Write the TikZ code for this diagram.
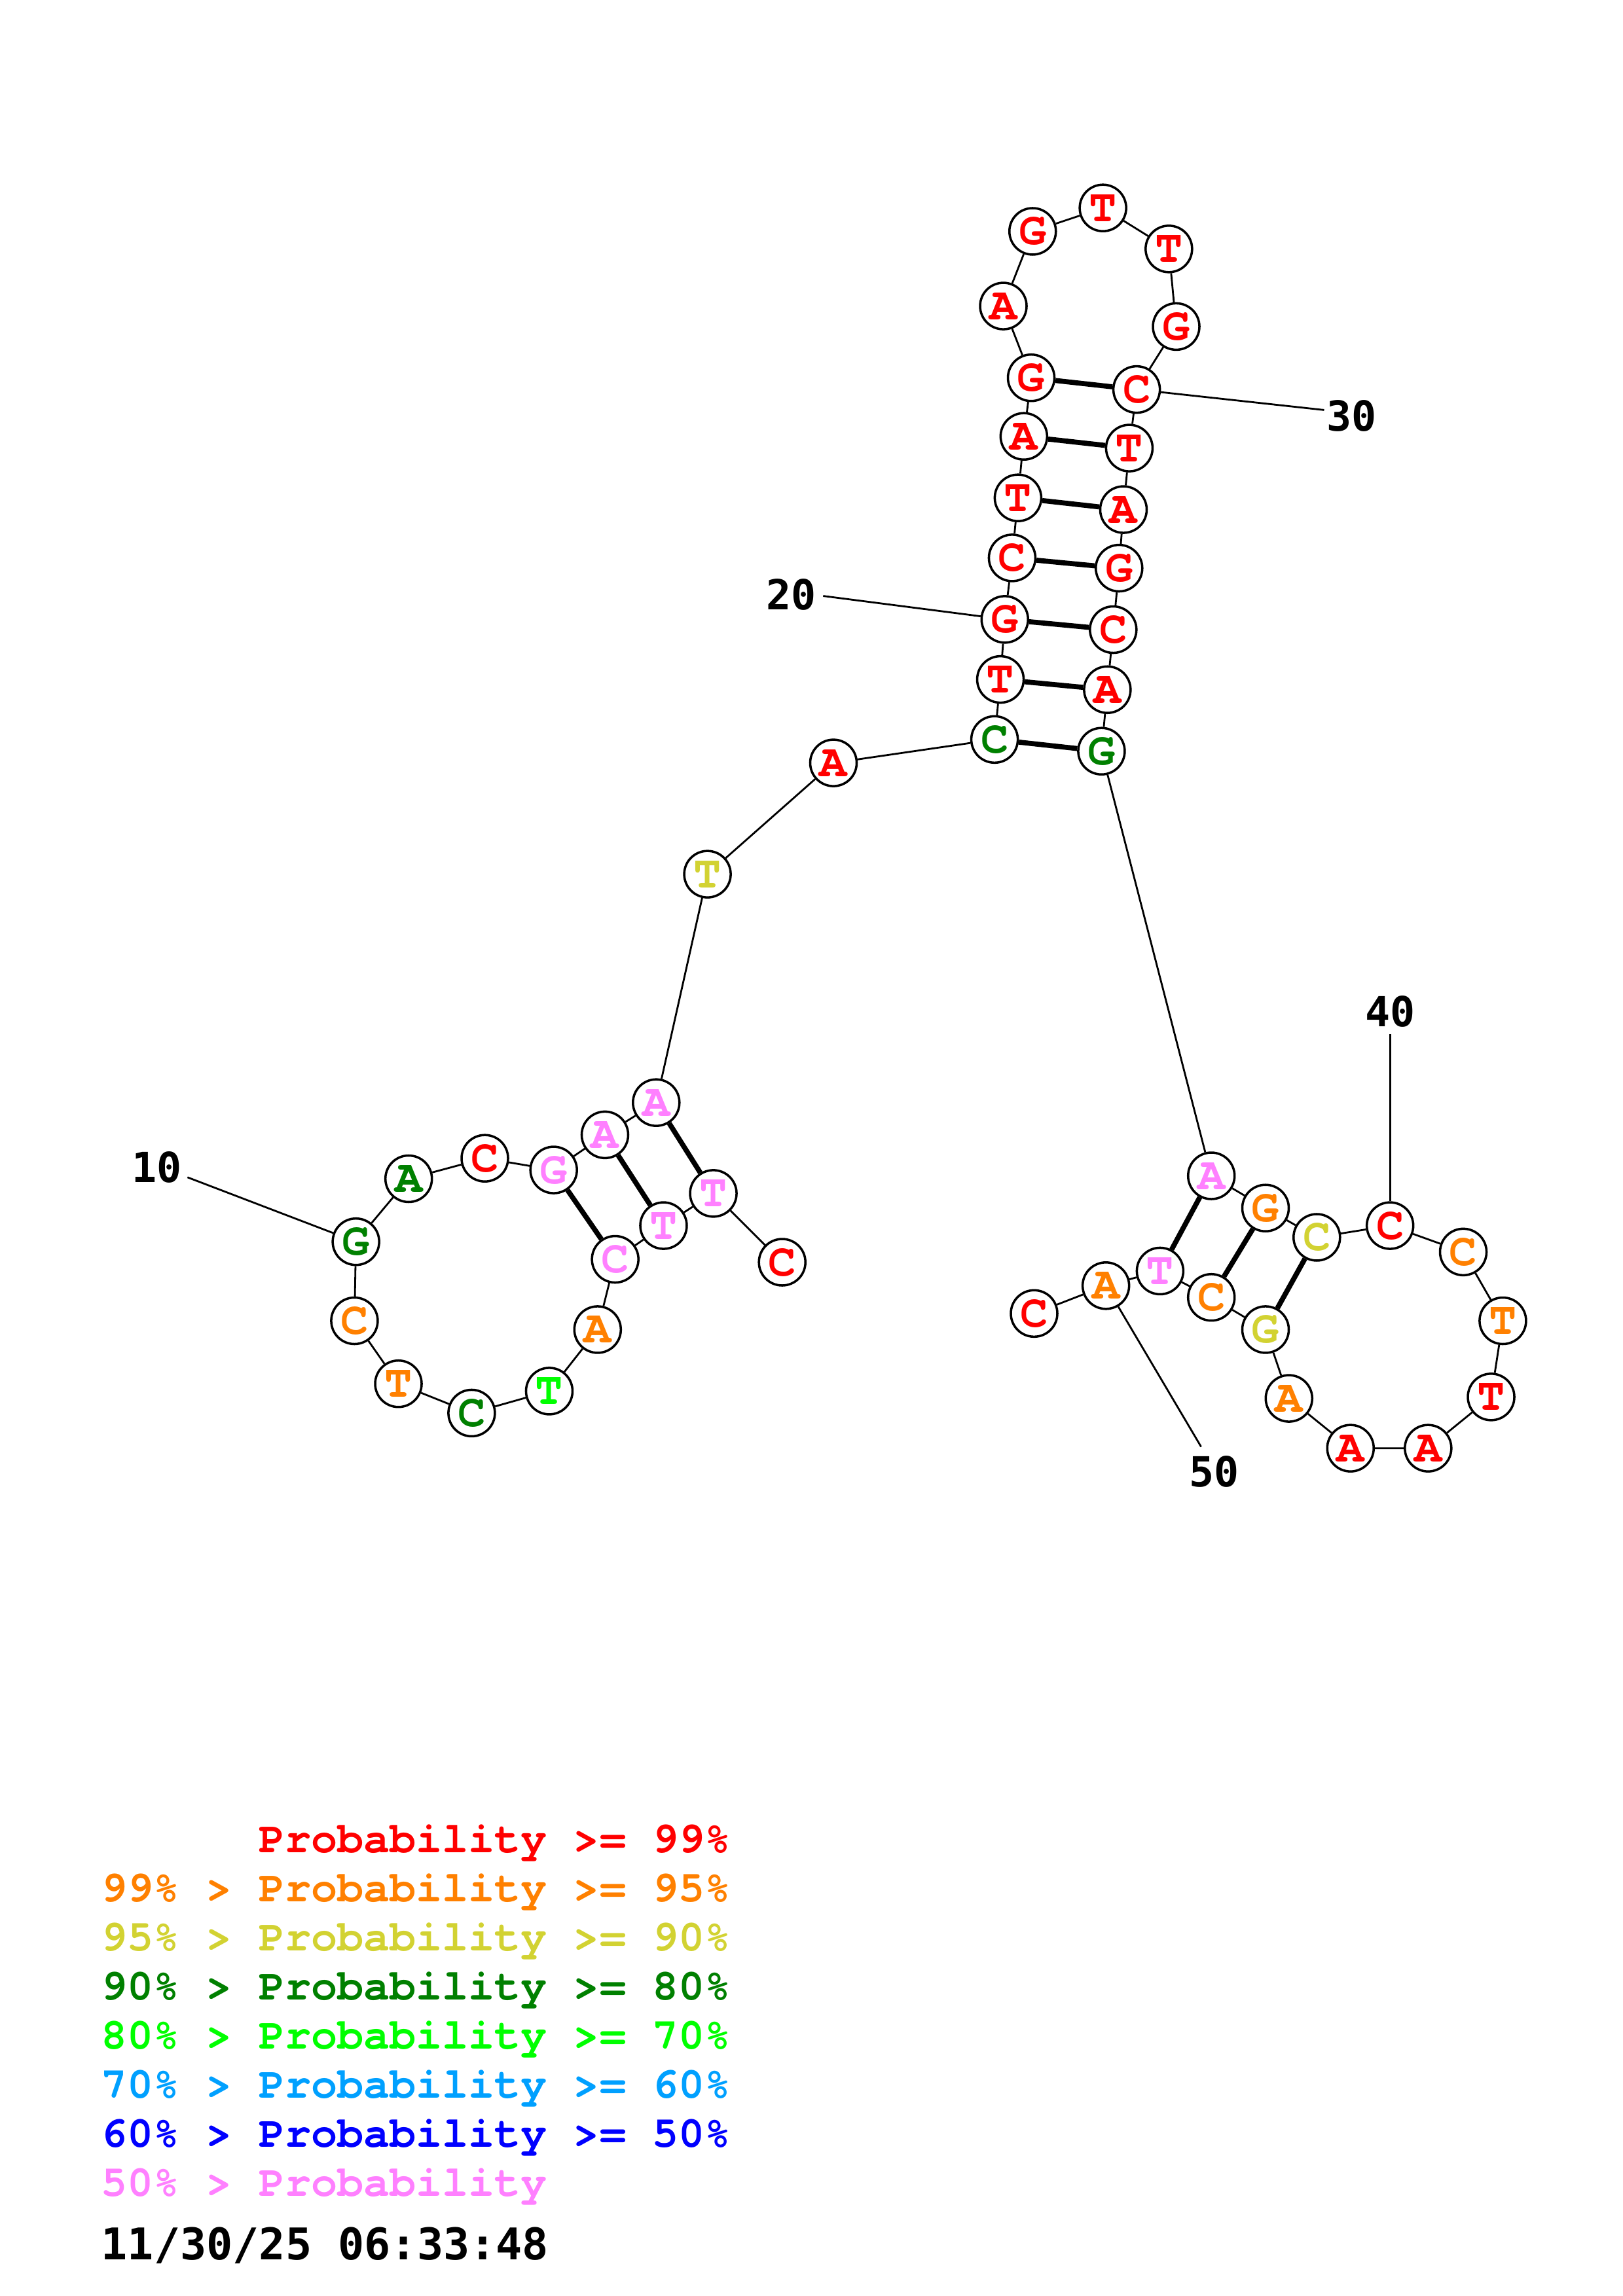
\documentclass[tikz,border=0pt]{standalone}
\usepackage{fontspec}
\usepackage{tikz}
\newfontfamily\basefont{TeX Gyre Cursor}
\newfontfamily\numfont{DejaVu Sans Mono}

\definecolor{prRed}{RGB}{255,0,0}
\definecolor{prOrange}{RGB}{255,128,0}
\definecolor{prYellow}{RGB}{210,210,50}
\definecolor{prDkGreen}{RGB}{0,128,0}
\definecolor{prGreen}{RGB}{0,255,0}
\definecolor{prSky}{RGB}{0,160,255}
\definecolor{prBlue}{RGB}{0,0,255}
\definecolor{prPink}{RGB}{255,128,255}

\begin{document}
\begin{tikzpicture}[
    x=0.022374cm, y=-0.022374cm,
    nt/.style={circle, draw=black, line width=1pt, fill=white, inner sep=0pt, minimum size=0.71cm, font=\basefont\bfseries\fontsize{20}{20}\selectfont},
    p99/.style={nt, text=prRed},
    p95/.style={nt, text=prOrange},
    p90/.style={nt, text=prYellow},
    p80/.style={nt, text=prDkGreen},
    p70/.style={nt, text=prGreen},
    p50/.style={nt, text=prPink},
    backbone/.style={line width=0.8pt},
    pair/.style={line width=2.2pt},
    tick/.style={line width=0.8pt},
    numlabel/.style={inner sep=0pt, font=\numfont\bfseries\fontsize{18}{18}\selectfont},
    legend/.style={anchor=base west, inner sep=0pt, font=\basefont\bfseries\fontsize{19}{19}\selectfont}
]
    \useasboundingbox (0,0) rectangle (1108,1568);

    % 5' end and first stem
    \node[p99] (n1) at (534,862) {C};
    \node[p50] (n2) at (487,815) {T};
    \node[p50] (n3) at (453,837) {T};
    \node[p50] (n4) at (420,860) {C};
    % left loop
    \node[p95] (n5) at (408,908) {A};
    \node[p70] (n6) at (375,950) {T};
    \node[p80] (n7) at (322,965) {C};
    \node[p95] (n8) at (272,945) {T};
    \node[p95] (n9) at (242,902) {C};
    \node[p80] (n10) at (243,848) {G};
    \node[p80] (n11) at (279,805) {A};
    \node[p99] (n12) at (331,791) {C};
    \node[p50] (n13) at (378,799) {G};
    \node[p50] (n14) at (413,775) {A};
    \node[p50] (n15) at (448,753) {A};
    % linker
    \node[p90] (n16) at (483,597) {T};
    \node[p99] (n17) at (569,521) {A};
    % long hairpin
    \node[p80] (n18) at (679,505) {C};
    \node[p99] (n19) at (683,464) {T};
    \node[p99] (n20) at (686,423) {G};
    \node[p99] (n21) at (691,381) {C};
    \node[p99] (n22) at (695,340) {T};
    \node[p99] (n23) at (699,298) {A};
    \node[p99] (n24) at (704,258) {G};
    \node[p99] (n25) at (685,209) {A};
    \node[p99] (n26) at (705,158) {G};
    \node[p99] (n27) at (753,142) {T};
    \node[p99] (n28) at (798,170) {T};
    \node[p99] (n29) at (803,223) {G};
    \node[p99] (n30) at (776,266) {C};
    \node[p99] (n31) at (771,306) {T};
    \node[p99] (n32) at (767,348) {A};
    \node[p99] (n33) at (764,388) {G};
    \node[p99] (n34) at (760,430) {C};
    \node[p99] (n35) at (756,471) {A};
    \node[p80] (n36) at (752,513) {G};
    % right stem and loop
    \node[p50] (n37) at (827,803) {A};
    \node[p95] (n38) at (864,825) {G};
    \node[p90] (n39) at (899,845) {C};
    \node[p99] (n40) at (949,837) {C};
    \node[p95] (n41) at (999,855) {C};
    \node[p95] (n42) at (1026,902) {T};
    \node[p99] (n43) at (1018,954) {T};
    \node[p99] (n44) at (975,989) {A};
    \node[p99] (n45) at (922,989) {A};
    \node[p95] (n46) at (880,955) {A};
    \node[p90] (n47) at (864,908) {G};
    \node[p95] (n48) at (827,886) {C};
    \node[p50] (n49) at (792,868) {T};
    \node[p95] (n50) at (755,878) {A};
    \node[p99] (n51) at (706,897) {C};

    % backbone
    \draw[backbone] (n1) -- (n2) -- (n3) -- (n4) -- (n5) -- (n6) -- (n7) -- (n8) -- (n9) -- (n10)
        -- (n11) -- (n12) -- (n13) -- (n14) -- (n15) -- (n16) -- (n17) -- (n18) -- (n19) -- (n20)
        -- (n21) -- (n22) -- (n23) -- (n24) -- (n25) -- (n26) -- (n27) -- (n28) -- (n29) -- (n30)
        -- (n31) -- (n32) -- (n33) -- (n34) -- (n35) -- (n36) -- (n37) -- (n38) -- (n39) -- (n40)
        -- (n41) -- (n42) -- (n43) -- (n44) -- (n45) -- (n46) -- (n47) -- (n48) -- (n49) -- (n50)
        -- (n51);

    % base pairs
    \draw[pair] (n2) -- (n15);
    \draw[pair] (n3) -- (n14);
    \draw[pair] (n4) -- (n13);
    \draw[pair] (n18) -- (n36);
    \draw[pair] (n19) -- (n35);
    \draw[pair] (n20) -- (n34);
    \draw[pair] (n21) -- (n33);
    \draw[pair] (n22) -- (n32);
    \draw[pair] (n23) -- (n31);
    \draw[pair] (n24) -- (n30);
    \draw[pair] (n37) -- (n49);
    \draw[pair] (n38) -- (n48);
    \draw[pair] (n39) -- (n47);

    % position numbers
    \node[numlabel] (lab10) at (107,797) {10};
    \node[numlabel] (lab20) at (540,406) {20};
    \node[numlabel] (lab30) at (923,284) {30};
    \node[numlabel] (lab40) at (949,691) {40};
    \node[numlabel] (lab50) at (829,1005) {50};
    \coordinate (t10) at (128,804);
    \coordinate (t20) at (562,407);
    \coordinate (t30) at (904,280);
    \coordinate (t40) at (949,706);
    \coordinate (t50) at (820,988);
    \draw[tick] (t10) -- (n10);
    \draw[tick] (t20) -- (n20);
    \draw[tick] (n30) -- (t30);
    \draw[tick] (t40) -- (n40);
    \draw[tick] (n50) -- (t50);

    % legend
    \node[legend, text=prRed] (leg1) at (68.8,1265.3) {\hphantom{99\% > }Probability >= 99\%};
    \node[legend, text=prOrange] (leg2) at (68.8,1298.8) {99\% > Probability >= 95\%};
    \node[legend, text=prYellow] (leg3) at (68.8,1332.3) {95\% > Probability >= 90\%};
    \node[legend, text=prDkGreen] (leg4) at (68.8,1365.8) {90\% > Probability >= 80\%};
    \node[legend, text=prGreen] (leg5) at (68.8,1399.3) {80\% > Probability >= 70\%};
    \node[legend, text=prSky] (leg6) at (68.8,1432.8) {70\% > Probability >= 60\%};
    \node[legend, text=prBlue] (leg7) at (68.8,1466.3) {60\% > Probability >= 50\%};
    \node[legend, text=prPink] (leg8) at (68.8,1499.8) {50\% > Probability};
    \node[legend, font=\numfont\bfseries\fontsize{19}{19}\selectfont] (stamp) at (68.8,1543.3) {11/30/25 06:33:48};
\end{tikzpicture}
\end{document}
